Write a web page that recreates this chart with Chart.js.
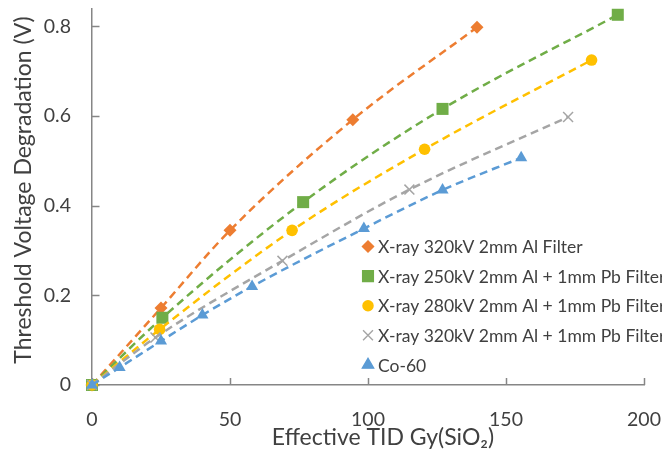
<!DOCTYPE html>
<html>
<head>
<meta charset="utf-8">
<script src="https://cdn.jsdelivr.net/npm/chart.js@4/dist/chart.umd.min.js"></script>
<style>
  html, body { margin: 0; padding: 0; background: #ffffff; }
  #wrap { width: 662px; height: 450px; }
</style>
</head>
<body>
<div id="wrap"><canvas id="chart" width="662" height="450"></canvas></div>
<script>
// Axis ticks
const xTicks = [0, 50, 100, 150, 200];
const yTicks = [0, 0.2, 0.4, 0.6, 0.8];

// Series names
const seriesNames = [
  'X-ray 320kV 2mm Al Filter',
  'X-ray 250kV 2mm Al + 1mm Pb Filter',
  'X-ray 280kV 2mm Al + 1mm Pb Filter',
  'X-ray 320kV 2mm Al + 1mm Pb Filter',
  'Co-60'
];

// Dose (Gy SiO2) and threshold voltage shift (V) per source
const xray320AlDose = [0, 25, 50, 94.5, 139.5];
const xray320AlShift = [0, 0.172, 0.345, 0.592, 0.798];

const xray250PbDose = [0, 25.5, 76.5, 127, 190.5];
const xray250PbShift = [0, 0.150, 0.408, 0.616, 0.826];

const xray280PbDose = [0, 24.5, 72.5, 120.5, 181];
const xray280PbShift = [0, 0.124, 0.345, 0.526, 0.725];

const xray320PbDose = [0, 23, 69, 115, 172.5];
const xray320PbShift = [0, 0.106, 0.277, 0.436, 0.598];

const co60Dose = [0, 10, 25, 40, 58, 98.5, 127, 155.5];
const co60Shift = [0, 0.039, 0.098, 0.156, 0.220, 0.349, 0.435, 0.507];

const AXIS_COLOR = '#868686';
const TEXT_COLOR = '#404040';
const FONT = 'Lato, "Open Sans", sans-serif';

const toPoints = (xs, ys) => xs.map((x, i) => ({ x: x, y: ys[i] }));

const styles = [
  { color: '#ED7D31', pointStyle: 'rectRot', radius: 6.5, legendRadius: 5.5 },
  { color: '#70AD47', pointStyle: 'rect', radius: 8.5, legendRadius: 7.5 },
  { color: '#FFC000', pointStyle: 'circle', radius: 5.8, legendRadius: 5 },
  { color: '#A5A5A5', pointStyle: 'crossRot', radius: 7, legendRadius: 7 },
  { color: '#5B9BD5', pointStyle: 'triangle', radius: 7, legendRadius: 6.5 }
];

const seriesData = [
  toPoints(xray320AlDose, xray320AlShift),
  toPoints(xray250PbDose, xray250PbShift),
  toPoints(xray280PbDose, xray280PbShift),
  toPoints(xray320PbDose, xray320PbShift),
  toPoints(co60Dose, co60Shift)
];

const datasets = seriesData.map((pts, i) => ({
  label: seriesNames[i],
  data: pts,
  showLine: true,
  cubicInterpolationMode: 'monotone',
  borderColor: styles[i].color,
  backgroundColor: styles[i].color,
  borderWidth: 2.5,
  borderDash: [8, 5],
  pointStyle: styles[i].pointStyle,
  pointRadius: styles[i].radius,
  pointHoverRadius: styles[i].radius,
  pointBorderWidth: styles[i].pointStyle === 'crossRot' ? 1.5 : 0,
  pointBorderColor: styles[i].color,
  pointBackgroundColor: styles[i].color,
  clip: false,
  order: seriesNames.length - i
}));

// Tick marks pointing into the plot area
const insideTicks = {
  id: 'insideTicks',
  beforeDatasetsDraw(chart) {
    const { ctx, scales: { x, y } } = chart;
    ctx.save();
    ctx.strokeStyle = AXIS_COLOR;
    ctx.lineWidth = 1.5;
    ctx.beginPath();
    x.ticks.forEach(t => {
      const px = Math.round(x.getPixelForValue(t.value)) + 0.5;
      ctx.moveTo(px, y.bottom);
      ctx.lineTo(px, y.bottom - 7);
    });
    y.ticks.forEach(t => {
      const py = Math.round(y.getPixelForValue(t.value)) + 0.5;
      ctx.moveTo(x.left, py);
      ctx.lineTo(x.left + 7.5, py);
    });
    ctx.stroke();
    ctx.restore();
  }
};

// Axis titles and the marker legend inside the plot
const annotations = {
  id: 'annotations',
  afterDraw(chart) {
    const { ctx } = chart;
    ctx.save();
    ctx.fillStyle = TEXT_COLOR;
    ctx.textAlign = 'center';
    ctx.textBaseline = 'middle';

    ctx.font = '23px ' + FONT;
    ctx.fillText('Effective TID Gy(SiO\u2082)', 383, 438);

    ctx.save();
    ctx.translate(24, 190);
    ctx.rotate(-Math.PI / 2);
    ctx.fillText('Threshold Voltage Degradation (V)', 0, 0);
    ctx.restore();

    ctx.font = '17.5px ' + FONT;
    ctx.textAlign = 'left';
    const legendX = 368, legendTop = 246.5, rowGap = 29.6;
    chart.data.datasets.forEach((ds, i) => {
      const cy = legendTop + i * rowGap;
      ctx.fillStyle = ds.backgroundColor;
      ctx.strokeStyle = ds.borderColor;
      ctx.lineWidth = ds.pointStyle === 'crossRot' ? 1.4 : 0;
      Chart.helpers.drawPoint(ctx, {
        pointStyle: ds.pointStyle,
        radius: styles[i].legendRadius,
        rotation: 0,
        borderWidth: ctx.lineWidth
      }, legendX, cy);
      ctx.fillStyle = TEXT_COLOR;
      ctx.fillText(ds.label, legendX + 10, cy + 1);
    });
    ctx.restore();
  }
};

new Chart(document.getElementById('chart'), {
  type: 'scatter',
  data: { datasets: datasets },
  options: {
    responsive: false,
    devicePixelRatio: 1,
    animation: false,
    layout: { padding: { left: 0, right: 18, top: 7, bottom: 0 } },
    plugins: {
      legend: { display: false },
      tooltip: { enabled: false }
    },
    scales: {
      x: {
        type: 'linear',
        min: 0,
        max: 200,
        afterBuildTicks: s => { s.ticks = xTicks.map(v => ({ value: v })); },
        afterFit: s => { s.height = 65; s.paddingLeft = 0; s.paddingRight = 0; },
        grid: { display: false, drawTicks: false },
        border: { display: true, color: AXIS_COLOR, width: 1.5 },
        ticks: {
          padding: 23,
          color: TEXT_COLOR,
          font: { family: FONT, size: 19.5 },
          maxRotation: 0
        }
      },
      y: {
        type: 'linear',
        min: 0,
        max: 0.84,
        afterBuildTicks: s => { s.ticks = yTicks.map(v => ({ value: v })); },
        afterFit: s => { s.width = 92; s.paddingTop = 0; s.paddingBottom = 0; },
        grid: { display: false, drawTicks: false },
        border: { display: true, color: AXIS_COLOR, width: 1.5 },
        ticks: {
          padding: 21,
          color: TEXT_COLOR,
          font: { family: FONT, size: 19.5 },
          callback: v => (v === 0 ? '0' : v.toFixed(1))
        }
      }
    }
  },
  plugins: [insideTicks, annotations]
});
</script>
</body>
</html>
